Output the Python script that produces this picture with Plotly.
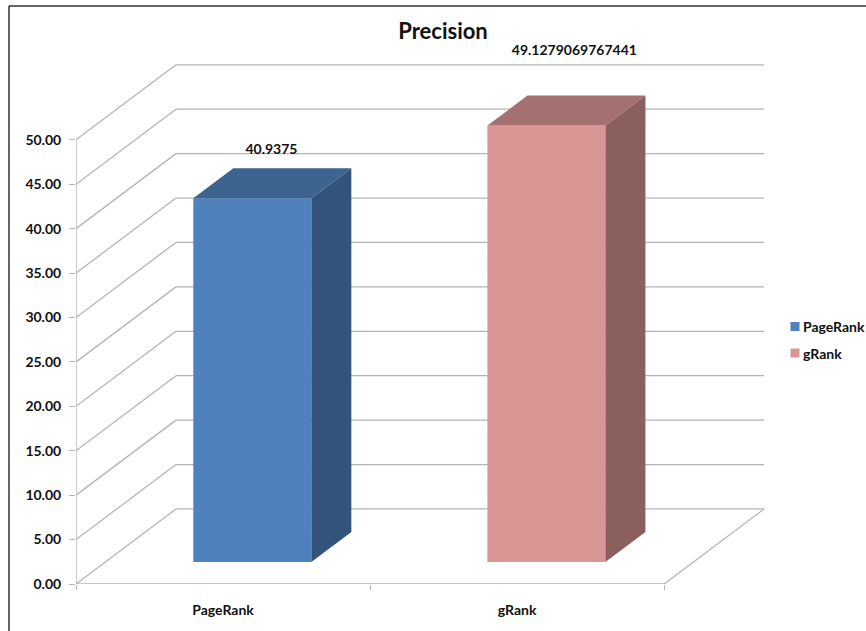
import plotly.graph_objects as go

# Chart values
categories = ["PageRank", "gRank"]
series_names = ["PageRank", "gRank"]
series_values = [40.9375, 49.1279069767441]
value_ticks = [0, 5, 10, 15, 20, 25, 30, 35, 40, 45, 50]

# Colours of each bar: front, top and side face
front_colors = ["#4f81bd", "#d99694"]
top_colors = ["#3d648f", "#a47170"]
side_colors = ["#32537a", "#8a5f5e"]
grid_color = "#b4b4b4"
text_color = "#111111"
FONT = "Lato"

# Oblique projection: how far the back wall is shifted from the front plane,
# in axis units (one category wide, one value unit high)
DEPTH_X = 0.34
DEPTH_Y = 8.446
BAR_START = 0.293   # fraction of the depth where the bar's front face sits
BAR_DEPTH = 0.40    # fraction of the depth the bar occupies
BAR_WIDTH = 0.4014

# Pixel layout of the page
W, H = 866, 631
M_L, M_R, M_T, M_B = 76, 96, 51, 47
X_MAX = 2.36
Y_MAX = 60.0
plot_w = W - M_L - M_R
plot_h = H - M_T - M_B

# Value label placement per bar: sideways nudge and height on the value axis
LABEL_NUDGE_X = [-0.003, 0.027]
LABEL_LEVEL = [48.8, 59.9]


def paper_x(px):
    return (px - M_L) / plot_w


def paper_y(py):
    return (H - M_B - py) / plot_h


fig = go.Figure()

lift = BAR_START * DEPTH_Y
shift = BAR_START * DEPTH_X
side_dx = BAR_DEPTH * DEPTH_X
side_dy = BAR_DEPTH * DEPTH_Y

# Front faces are real bars, raised off the floor by the bar's position in depth
for i, (name, value) in enumerate(zip(series_names, series_values)):
    center = i + 0.5 + shift
    fig.add_trace(go.Bar(
        x=[center], y=[value], base=[lift], width=[BAR_WIDTH], name=name,
        marker=dict(color=front_colors[i], line=dict(width=0)),
        showlegend=False, hoverinfo="skip",
    ))

    left, right = center - BAR_WIDTH / 2, center + BAR_WIDTH / 2
    bottom, top = lift, lift + value

    # Top face
    fig.add_trace(go.Scatter(
        x=[left, right, right + side_dx, left + side_dx, left],
        y=[top, top, top + side_dy, top + side_dy, top],
        mode="lines", fill="toself", fillcolor=top_colors[i],
        line=dict(width=0), showlegend=False, hoverinfo="skip", cliponaxis=False,
    ))
    # Side face
    fig.add_trace(go.Scatter(
        x=[right, right + side_dx, right + side_dx, right, right],
        y=[bottom, bottom + side_dy, top + side_dy, top, bottom],
        mode="lines", fill="toself", fillcolor=side_colors[i],
        line=dict(width=0), showlegend=False, hoverinfo="skip", cliponaxis=False,
    ))
    # Value label
    fig.add_trace(go.Scatter(
        x=[center + side_dx / 2 + LABEL_NUDGE_X[i]], y=[LABEL_LEVEL[i]],
        mode="text", text=[str(value)], textposition="middle center",
        textfont=dict(family=FONT, size=14, color=text_color, weight="bold"),
        showlegend=False, hoverinfo="skip", cliponaxis=False,
    ))

# Value axis line and category axis line
fig.add_trace(go.Scatter(
    x=[0, 0], y=[value_ticks[0], value_ticks[-1]], mode="lines",
    line=dict(color=grid_color, width=1.4), showlegend=False,
    hoverinfo="skip", cliponaxis=False,
))
fig.add_trace(go.Scatter(
    x=[0, len(categories)], y=[0, 0], mode="lines",
    line=dict(color=grid_color, width=1.4), showlegend=False,
    hoverinfo="skip", cliponaxis=False,
))

# Wall gridlines sit beneath the bars
shapes = []
grid_line = dict(color=grid_color, width=1.3)
for v in value_ticks:
    for x0, y0, x1, y1 in [
        (0, v, DEPTH_X, v + DEPTH_Y),
        (DEPTH_X, v + DEPTH_Y, len(categories) + DEPTH_X, v + DEPTH_Y),
    ]:
        shapes.append(dict(type="line", xref="x", yref="y", x0=x0, y0=y0,
                           x1=x1, y1=y1, line=grid_line, layer="below"))
# Right edge of the floor
shapes.append(dict(type="line", xref="x", yref="y", x0=len(categories), y0=0,
                   x1=len(categories) + DEPTH_X, y1=DEPTH_Y,
                   line=grid_line, layer="below"))

# Chart frame, open on the right and bottom where the page cuts it off
frame = dict(color="#333333", width=1.5)
shapes.append(dict(type="line", xref="paper", yref="paper",
                   x0=paper_x(9), y0=paper_y(6), x1=paper_x(W), y1=paper_y(6), line=frame))
shapes.append(dict(type="line", xref="paper", yref="paper",
                   x0=paper_x(9), y0=paper_y(6), x1=paper_x(9), y1=paper_y(H), line=frame))

# Compact legend: small square swatch followed closely by its label
annotations = []
for i, name in enumerate(series_names):
    row_y = 326.5 + 26.5 * i
    shapes.append(dict(type="rect", xref="paper", yref="paper",
                       x0=paper_x(790.5), x1=paper_x(799.5),
                       y0=paper_y(row_y - 4.5), y1=paper_y(row_y + 4.5),
                       fillcolor=front_colors[i], line=dict(width=0)))
    annotations.append(dict(text=name, xref="paper", yref="paper",
                            x=paper_x(803), y=paper_y(row_y),
                            xanchor="left", yanchor="middle", showarrow=False,
                            xshift=-2,
                            font=dict(family=FONT, size=14, color=text_color, weight="bold")))

fig.update_layout(
    width=W, height=H,
    margin=dict(l=M_L, r=M_R, t=M_T, b=M_B, autoexpand=False),
    paper_bgcolor="white", plot_bgcolor="rgba(0,0,0,0)",
    font=dict(family=FONT, size=12, color=text_color, weight="bold"),
    title=dict(text="<b>Precision</b>", x=443 / W, xanchor="center",
               y=1 - 31 / H, yanchor="middle",
               font=dict(family=FONT, size=22, color=text_color)),
    barmode="overlay", shapes=shapes, annotations=annotations, showlegend=False,
    xaxis=dict(
        range=[0, X_MAX], showgrid=False, zeroline=False, showline=False,
        tickmode="array", tickvals=[i + 0.5 for i in range(len(categories))],
        ticktext=categories, ticks="", ticklabelstandoff=16,
        tickfont=dict(family=FONT, size=14, color=text_color, weight="bold"),
        minor=dict(tickmode="array", tickvals=list(range(len(categories) + 1)),
                   ticks="outside", ticklen=5, tickcolor=grid_color, tickwidth=1.2,
                   showgrid=False),
    ),
    yaxis=dict(
        range=[0, Y_MAX], showgrid=False, zeroline=False, showline=False,
        tickmode="array", tickvals=value_ticks, tickformat=".2f",
        ticks="outside", ticklen=6, tickcolor=grid_color, tickwidth=1.2,
        ticklabelstandoff=5,
        tickfont=dict(family=FONT, size=14, color=text_color, weight="bold"),
    ),
)

fig.write_html("out.html")
